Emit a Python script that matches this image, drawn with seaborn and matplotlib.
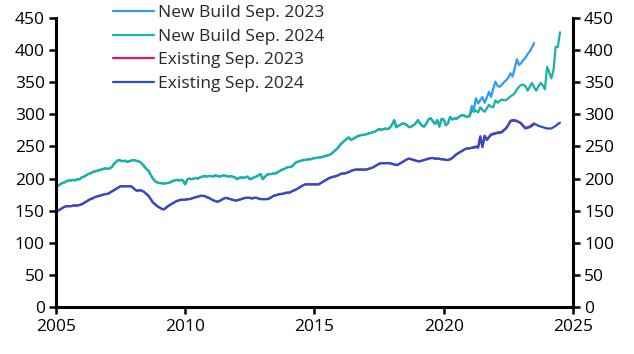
import pandas as pd
import numpy as np
import seaborn as sns
import matplotlib.pyplot as plt

### monthly index values (2005-01 onwards) ###
nb_hist = [187, 189, 191, 193, 194, 196, 197, 197, 198, 197, 199, 199,   # 2005
           202, 203, 205, 207, 208, 210, 211, 212, 213, 214, 215, 216,   # 2006
           215, 216, 218, 223, 226, 229, 228, 227, 228, 226, 227, 228,   # 2007
           229, 228, 227, 226, 223, 219, 215, 212, 206, 200, 196, 194,   # 2008
           193, 193, 192, 193, 193, 194, 196, 197, 198, 197, 198, 197,   # 2009
           191, 199, 200, 199, 200, 201, 200, 202, 203, 204, 203, 204,   # 2010
           204, 203, 205, 204, 203, 204, 205, 204, 203, 204, 203, 202,   # 2011
           199, 201, 202, 201, 202, 203, 199, 200, 202, 203, 205, 207,   # 2012
           199, 203, 206, 207, 207, 208, 208, 210, 212, 214, 215, 217,   # 2013
           218, 218, 220, 224, 226, 227, 228, 229, 229, 230, 230, 231,   # 2014
           232, 232, 233, 233, 234, 235, 236, 237, 239, 242, 245, 248,   # 2015
           253, 256, 259, 262, 264, 260, 262, 264, 266, 267, 268, 268,   # 2016
           269, 270, 271, 272, 273, 275, 277, 276, 277, 278, 277, 279,   # 2017
           284, 291, 280, 282, 284, 286, 285, 283, 280, 281, 283, 286,   # 2018
           291, 286, 282, 281, 286, 292, 294, 289, 285, 291, 281, 293,   # 2019
           292, 283, 286, 296, 292, 294, 293, 296, 298, 299, 297, 296]   # 2020

nb_2023_tail = [298, 313, 307, 325, 317, 322, 327, 318, 326, 335, 327, 340,   # 2021
                351, 344, 343, 346, 350, 353, 357, 364, 359, 372, 386, 377,   # 2022
                380, 385, 388, 394, 398, 404, 411]                            # 2023

nb_2024_tail = [297, 307, 304, 306, 303, 311, 307, 304, 309, 315, 312, 311,   # 2021
                322, 318, 321, 323, 322, 322, 325, 328, 330, 333, 339, 343,   # 2022
                346, 346, 344, 337, 343, 349, 342, 337, 344, 349, 345, 339,   # 2023
                374, 365, 356, 369, 405, 405, 428]                            # 2024

ex_hist = [148, 150, 152, 154, 156, 157, 157, 157, 158, 158, 158, 159,   # 2005
           160, 162, 164, 166, 168, 169, 171, 172, 173, 174, 175, 176,   # 2006
           176, 178, 180, 182, 184, 186, 188, 188, 188, 188, 188, 188,   # 2007
           185, 182, 181, 182, 181, 179, 176, 173, 168, 163, 160, 157,   # 2008
           155, 153, 152, 154, 157, 159, 161, 163, 165, 166, 167, 167,   # 2009
           167, 168, 168, 169, 170, 171, 172, 173, 173, 173, 171, 170,   # 2010
           168, 166, 165, 164, 165, 167, 169, 170, 169, 168, 167, 166,   # 2011
           166, 167, 168, 169, 170, 170, 170, 169, 170, 170, 169, 168,   # 2012
           168, 168, 168, 169, 171, 173, 174, 175, 176, 176, 177, 178,   # 2013
           178, 179, 181, 182, 184, 186, 188, 190, 191, 191, 191, 191,   # 2014
           191, 191, 191, 193, 195, 197, 199, 201, 202, 203, 204, 205,   # 2015
           207, 208, 208, 209, 210, 212, 213, 214, 214, 214, 214, 214,   # 2016
           214, 215, 216, 217, 219, 221, 223, 224, 224, 224, 224, 224,   # 2017
           223, 222, 221, 222, 224, 226, 228, 230, 231, 230, 229, 228,   # 2018
           227, 227, 228, 229, 230, 231, 232, 232, 231, 231, 231, 230,   # 2019
           230, 229, 229, 230, 232, 235, 238, 240, 242, 244, 246, 247]   # 2020

ex_2023_tail = [247, 248, 249, 250, 249, 266, 250, 267, 261, 265, 269, 270,   # 2021
                271, 272, 272, 273, 276, 279, 284, 290, 291, 291, 290, 288,   # 2022
                286, 282, 279, 280, 281, 284, 286]                            # 2023

ex_2024_tail = [247, 248, 248, 249, 248, 265, 249, 266, 260, 264, 268, 269,   # 2021
                270, 271, 271, 272, 275, 278, 283, 289, 290, 290, 289, 288,   # 2022
                285, 281, 278, 279, 280, 282, 285, 284, 282, 281, 280, 279,   # 2023
                278, 278, 278, 280, 282, 285, 287]                            # 2024

labels = ["New Build Sep. 2023", "New Build Sep. 2024", "Existing Sep. 2023", "Existing Sep. 2024"]
colors = ["#2a9df4", "#17b3a3", "#d3186e", "#2b4fc9"]
series = [nb_hist + nb_2023_tail, nb_hist + nb_2024_tail,
          ex_hist + ex_2023_tail, ex_hist + ex_2024_tail]

frames = []
for lab, vals in zip(labels, series):
    d = pd.DataFrame({"date": pd.date_range("2005-01-01", periods=len(vals), freq="MS"),
                      "value": vals, "series": lab})
    frames.append(d)
df = pd.concat(frames, ignore_index=True)

sns.set_style("white")
plt.rcParams['font.family'] = ['Open Sans', 'DejaVu Sans']

fig = plt.figure(figsize=(6.34, 3.54), dpi=100)
ax = fig.add_axes([0.0883, 0.1328, 0.8155, 0.8162])
sns.lineplot(data=df, x="date", y="value", hue="series", hue_order=labels,
             palette=colors, linewidth=1.6, ax=ax, legend=False)

ax.set_xlim(pd.Timestamp("2005-01-01"), pd.Timestamp("2025-01-01"))
ax.set_ylim(0, 450)
ax.set_yticks(range(0, 451, 50))
years = [2005, 2010, 2015, 2020, 2025]
ax.set_xticks([pd.Timestamp(f"{y}-01-01") for y in years])
ax.set_xticklabels([str(y) for y in years])
ax.set_xlabel("")
ax.set_ylabel("")

for s in ["left", "right", "bottom"]:
    ax.spines[s].set_visible(True)
    ax.spines[s].set_linewidth(2.2)
    ax.spines[s].set_color("black")
ax.spines["top"].set_visible(False)
ax.tick_params(axis="both", direction="out", length=5, width=1.8, color="black",
               labelsize=12.5, labelcolor="black", pad=3)
ax.tick_params(axis="y", left=True, right=True, labelleft=True, labelright=True)
ax.tick_params(axis="x", bottom=True, pad=4)

handles = [plt.Line2D([], [], color=c, lw=1.6) for c in colors]
fig.legend(handles, labels, loc="upper left", bbox_to_anchor=(0.175, 0.99),
           frameon=False, fontsize=12.5, handlelength=2.4, handletextpad=0.2,
           labelspacing=0.42, borderpad=0.1, borderaxespad=0)

fig.savefig("out.png", dpi=100)
